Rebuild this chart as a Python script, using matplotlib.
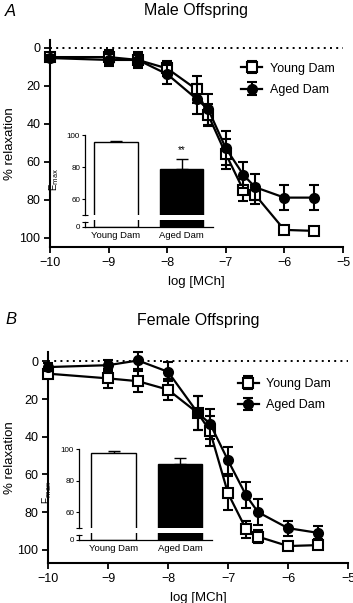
import matplotlib
matplotlib.use("Agg")
import matplotlib.pyplot as plt
import numpy as np

plt.rcParams['font.family'] = ['Liberation Sans', 'DejaVu Sans']
plt.rcParams['axes.unicode_minus'] = True

# ---------------- data ----------------
log_mch = [-10, -9, -8.5, -8, -7.5, -7.3, -7, -6.7, -6.5, -6, -5.5]

young_A = [5, 5, 6.5, 11, 22, 35.5, 56, 75, 77.5, 96, 96.5]
young_A_err = [1.5, 3.5, 3, 4, 7, 6, 8, 6, 5, 1, 1]
aged_A = [5.5, 6.5, 6.5, 14, 27, 32.5, 53, 67, 73.5, 79, 79]
aged_A_err = [1.5, 3, 4, 5, 8, 8, 9, 7, 7, 6.5, 6.5]

young_B = [6.5, 9, 10.5, 15, 27.5, 37, 70, 89, 93, 98, 97.5]
young_B_err = [2, 5, 5.5, 5.5, 9, 8, 9, 4.5, 3.5, 1, 1.5]
aged_B = [3, 2, -0.5, 5.5, 27.5, 33, 52.5, 71, 80, 88.5, 91]
aged_B_err = [2, 3, 4.5, 5, 9, 8, 7, 7, 7, 4, 3.5]

groups = ['Young Dam', 'Aged Dam']
emax_A = [95.8, 78.8]
emax_A_err = [0.5, 6.0]
emax_B = [97.3, 90.6]
emax_B_err = [1.4, 3.7]

series_labels = ['Young Dam', 'Aged Dam']
xticks = [-10, -9, -8, -7, -6, -5]
yticks = [0, 20, 40, 60, 80, 100]

W, H = 353, 603
fig = plt.figure(figsize=(W / 100, H / 100), dpi=100)


def fr(x0, y_top, x1, y_bot):
    return [x0 / W, 1 - y_bot / H, (x1 - x0) / W, (y_bot - y_top) / H]


def main_panel(rect, ylim, young, yerr, aged, aerr, title, letter, title_px, leg_anchor):
    ax = fig.add_axes(rect)
    ax.plot([-10, -5], [0, 0], color='black', lw=1.4, ls=(0, (1, 2.2)), zorder=1,
            clip_on=False)
    ax.errorbar(log_mch, young, yerr=yerr, color='black', lw=1.6, elinewidth=1.5,
                capsize=3.5, capthick=1.5, marker='s', ms=6.5, mfc='white', mec='black',
                mew=1.5, label=series_labels[0], zorder=3, clip_on=False)
    ax.errorbar(log_mch, aged, yerr=aerr, color='black', lw=1.6, elinewidth=1.5,
                capsize=3.5, capthick=1.5, marker='o', ms=6.5, mfc='black', mec='black',
                mew=1.5, label=series_labels[1], zorder=4, clip_on=False)
    ax.set_xlim(-10, -5)
    ax.set_ylim(*ylim)
    ax.set_xticks(xticks)
    ax.set_yticks(yticks)
    for s in ['top', 'right']:
        ax.spines[s].set_visible(False)
    for s in ['left', 'bottom']:
        ax.spines[s].set_linewidth(1.5)
    ax.tick_params(width=1.3, length=4, labelsize=9, pad=3)
    ax.set_xlabel('log [MCh]', fontsize=9.5, labelpad=5)
    ax.set_ylabel('% relaxation', fontsize=9.5)
    left_px = rect[0] * W
    ax.yaxis.set_label_coords(-(left_px - 16) / (rect[2] * W), 0.5)
    cx = rect[0] + rect[2] / 2
    fig.text(cx, 1 - title_px / H, title, fontsize=11.5, ha='center', va='center')
    fig.text(5 / W, 1 - title_px / H, letter, fontsize=12, style='italic',
             va='center', ha='left')
    ax.legend(loc='upper left', bbox_to_anchor=leg_anchor, frameon=False,
              fontsize=9, handlelength=1.7, handletextpad=0.6, labelspacing=0.75,
              borderaxespad=0)
    return ax


def inset(upper_rect, lower_rect, values, errs, xlim, stars):
    axu = fig.add_axes(upper_rect)
    axl = fig.add_axes(lower_rect)
    colors = ['white', 'black']
    xs = [0, 1]
    for a in (axu, axl):
        a.bar(xs, values, width=0.67, color=colors, edgecolor='black', linewidth=1.0,
              zorder=2)
        a.set_xlim(*xlim)
        a.set_xticks([])
        for s in ['top', 'right']:
            a.spines[s].set_visible(False)
        a.spines['left'].set_linewidth(0.9)
        a.patch.set_alpha(0)
    axu.errorbar(xs, values, yerr=[[0, 0], errs], fmt='none', ecolor='black',
                 elinewidth=1.0, capsize=4, capthick=1.0, zorder=1)
    axu.set_ylim(50, 100)
    axu.set_yticks([60, 80, 100])
    axu.set_yticks([50], minor=True)
    axu.spines['bottom'].set_visible(False)
    axu.tick_params(axis='y', labelsize=5.8, length=2.5, width=0.8, pad=1)
    axu.tick_params(axis='y', which='minor', length=5, width=0.8, direction='inout')
    axu.set_ylabel(r'E$_{\mathrm{max}}$', fontsize=7, labelpad=2)
    axu.yaxis.set_label_coords(-0.19, 0.45)
    if stars:
        axu.text(1, values[1] + errs[1] + 2.5, stars, ha='center', va='bottom', fontsize=7)
    axl.set_ylim(0, 4)
    axl.set_yticks([0])
    axl.set_yticks([3], minor=True)
    axl.spines['left'].set_bounds(0, 3)
    axl.spines['bottom'].set_linewidth(0.9)
    axl.tick_params(axis='y', labelsize=5.8, length=2.5, width=0.8, pad=1)
    axl.tick_params(axis='y', which='minor', length=5, width=0.8, direction='inout')
    axl.set_xticks(xs)
    axl.set_xticklabels(groups, fontsize=6.8)
    axl.tick_params(axis='x', length=0, pad=3)


main_panel(fr(50, 40, 343, 247), (105, -4), young_A, young_A_err, aged_A, aged_A_err,
           'Male Offspring', 'A', 11, (0.635, 0.915))
inset(fr(85, 135, 213, 215), fr(85, 220, 213, 226.7), emax_A, emax_A_err,
      (-0.473, 1.48), '**')

main_panel(fr(48, 352, 348, 563), (107, -5), young_B, young_B_err, aged_B, aged_B_err,
           'Female Offspring', 'B', 320, (0.615, 0.9))
inset(fr(79, 449, 212, 527.8), fr(79, 533.3, 212, 540), emax_B, emax_B_err,
      (-0.52, 1.48), None)

fig.savefig('out.png', dpi=100)
